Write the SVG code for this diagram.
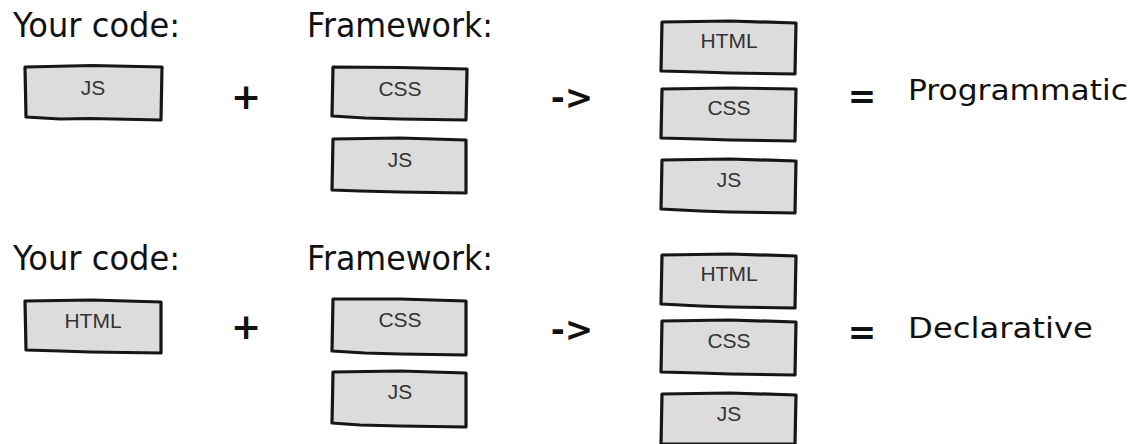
<svg xmlns="http://www.w3.org/2000/svg" width="1134" height="444" viewBox="0 0 1134 444">
  <style>
    .box { fill: #dcdcdc; stroke: #161616; stroke-width: 3.2; stroke-linejoin: round; }
    .lbl { font-family: "Liberation Sans", Arial, sans-serif; font-size: 21px; fill: #333333; text-anchor: middle; }
    .title { font-family: "DejaVu Sans", "Noto Sans", sans-serif; font-size: 33px; fill: #111111; }
    .result { font-family: "DejaVu Sans", "Noto Sans", sans-serif; font-size: 28px; fill: #111111; }
    .op { font-family: "DejaVu Sans", "Noto Sans", sans-serif; font-weight: bold; fill: #111111; text-anchor: middle; }
  </style>
  <rect width="1134" height="444" fill="#ffffff"/>

  <!-- Row 1: programmatic -->
  <g id="row1-titles">
    <text class="title" x="13" y="37" textLength="167" lengthAdjust="spacingAndGlyphs">Your code:</text>
    <text class="title" x="307" y="37" textLength="186" lengthAdjust="spacingAndGlyphs">Framework:</text>
  </g>
  <g id="row1-yourcode-js">
    <path class="box" d="M25,67 L92,65.5 L162,67 L161,120 L90,118.5 L60,119 L26,117 Z"/>
    <text class="lbl" x="93" y="95">JS</text>
  </g>
  <g id="row1-plus">
    <text class="op" x="246" y="109" font-size="36">+</text>
  </g>
  <g id="row1-fw-css">
    <path class="box" d="M333,67 L400,67.5 L467,69 L466,120 L400,119 L365,118 L332,116 Z"/>
    <text class="lbl" x="400" y="96">CSS</text>
  </g>
  <g id="row1-fw-js">
    <path class="box" d="M333,139 L400,138 L466,140 L466,193 L400,192 L360,191 L332,190 Z"/>
    <text class="lbl" x="400" y="167">JS</text>
  </g>
  <g id="row1-arrow">
    <text class="op" x="572" y="109" font-size="34">-&gt;</text>
  </g>
  <g id="row1-out-html">
    <path class="box" d="M662,22 L730,21 L796,23 L795,74 L730,73 L700,72 L661,71 Z"/>
    <text class="lbl" x="729" y="48">HTML</text>
  </g>
  <g id="row1-out-css">
    <path class="box" d="M662,89 L730,88 L796,89 L795,141 L730,140 L700,139 L661,138 Z"/>
    <text class="lbl" x="729" y="115">CSS</text>
  </g>
  <g id="row1-out-js">
    <path class="box" d="M662,160 L730,159 L796,161 L795,213 L730,212 L700,211 L661,209 Z"/>
    <text class="lbl" x="729" y="187">JS</text>
  </g>
  <g id="row1-equals">
    <text class="op" x="862" y="108" font-size="34">=</text>
  </g>
  <g id="row1-result">
    <text class="result" x="908" y="100" textLength="220" lengthAdjust="spacingAndGlyphs">Programmatic</text>
  </g>

  <!-- Row 2: declarative -->
  <g id="row2-titles">
    <text class="title" x="13" y="270" textLength="167" lengthAdjust="spacingAndGlyphs">Your code:</text>
    <text class="title" x="307" y="270" textLength="186" lengthAdjust="spacingAndGlyphs">Framework:</text>
  </g>
  <g id="row2-yourcode-html">
    <path class="box" d="M25,301 L92,300 L161,302 L161,353 L90,352 L60,351 L26,350 Z"/>
    <text class="lbl" x="93" y="328">HTML</text>
  </g>
  <g id="row2-plus">
    <text class="op" x="246" y="339" font-size="36">+</text>
  </g>
  <g id="row2-fw-css">
    <path class="box" d="M333,299 L400,299 L466,301 L466,355 L400,354 L365,353 L332,351 Z"/>
    <text class="lbl" x="400" y="327">CSS</text>
  </g>
  <g id="row2-fw-js">
    <path class="box" d="M333,372 L400,371 L466,373 L466,427 L400,426 L360,425 L332,423 Z"/>
    <text class="lbl" x="400" y="399">JS</text>
  </g>
  <g id="row2-arrow">
    <text class="op" x="572" y="341" font-size="34">-&gt;</text>
  </g>
  <g id="row2-out-html">
    <path class="box" d="M662,255 L730,254 L796,256 L795,308 L730,307 L700,306 L661,304 Z"/>
    <text class="lbl" x="729" y="281">HTML</text>
  </g>
  <g id="row2-out-css">
    <path class="box" d="M662,321 L730,320 L796,322 L795,375 L730,374 L700,373 L661,372 Z"/>
    <text class="lbl" x="729" y="348">CSS</text>
  </g>
  <g id="row2-out-js">
    <path class="box" d="M662,394 L730,393 L796,395 L795,444 L661,444 Z"/>
    <text class="lbl" x="729" y="421">JS</text>
  </g>
  <g id="row2-equals">
    <text class="op" x="862" y="344" font-size="34">=</text>
  </g>
  <g id="row2-result">
    <text class="result" x="908" y="338" textLength="185" lengthAdjust="spacingAndGlyphs">Declarative</text>
  </g>
</svg>
